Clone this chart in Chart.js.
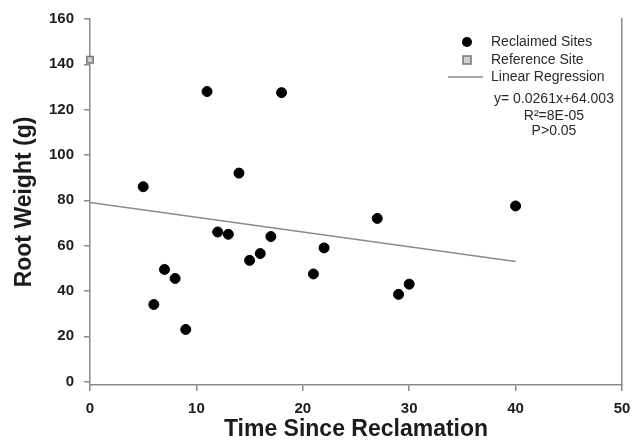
<!DOCTYPE html>
<html lang="en">

<head>
    <meta charset="UTF-8">
    <title>Root Weight vs Time Since Reclamation</title>
    <script src="https://cdn.jsdelivr.net/npm/chart.js"></script>
    <style>
        body { margin: 0; background: #fff; }
        .chart-container { width: 641px; height: 442px; position: relative; }
    </style>
</head>

<body>
    <div class="chart-container">
        <canvas id="rootChart"></canvas>
    </div>

    <script>
        // Reclaimed sites (years since reclamation, root weight in g)
        const reclaimedYears = [5, 6, 7, 8, 9, 11, 12, 13, 14, 15, 16, 17, 18, 21, 22, 27, 29, 30, 40];
        const reclaimedWeight = [86, 34, 49.5, 45.5, 23, 128, 66, 65, 92, 53.5, 56.5, 64, 127.5, 47.5, 59, 72, 38.5, 43, 77.5];

        // Reference site
        const referenceYears = [0];
        const referenceWeight = [142];

        // Regression line end points as drawn
        const regressionYears = [0, 40];
        const regressionWeight = [79, 53];

        const xTicks = [0, 10, 20, 30, 40, 50];
        const yTicks = [0, 20, 40, 60, 80, 100, 120, 140, 160];

        const legendLabels = ['Reclaimed Sites', 'Reference Site', 'Linear Regression'];
        const equationLines = ['y= 0.0261x+64.003', 'R\u00B2=8E-05', 'P>0.05'];

        const FONT = '"Liberation Sans", Arial, sans-serif';
        const AXIS_COLOR = '#8a8a8a';

        const toPoints = (xs, ys) => xs.map((x, i) => ({ x: x, y: ys[i] }));

        // Eksen başlıkları ve lejant
        const annotations = {
            id: 'annotations',
            afterDraw(chart) {
                const ctx = chart.ctx;
                const area = chart.chartArea;
                ctx.save();

                ctx.fillStyle = '#1c1c1c';
                ctx.textAlign = 'center';
                ctx.textBaseline = 'middle';
                ctx.font = 'bold 23px ' + FONT;
                ctx.fillText('Time Since Reclamation', (area.left + area.right) / 2, 430);

                ctx.save();
                ctx.translate(25, (area.top + area.bottom) / 2);
                ctx.rotate(-Math.PI / 2);
                ctx.fillText('Root Weight (g)', 0, 0);
                ctx.restore();

                // legend
                ctx.font = '14px ' + FONT;
                ctx.textAlign = 'left';
                ctx.fillStyle = '#2a2a2a';
                const rows = [42, 60, 77];
                legendLabels.forEach((label, i) => ctx.fillText(label, 491, rows[i]));

                ctx.fillStyle = '#000';
                ctx.beginPath();
                ctx.arc(467, rows[0], 5, 0, Math.PI * 2);
                ctx.fill();

                ctx.fillStyle = '#cfcfcf';
                ctx.strokeStyle = '#777';
                ctx.lineWidth = 1.5;
                ctx.fillRect(463, rows[1] - 4, 8, 8);
                ctx.strokeRect(463, rows[1] - 4, 8, 8);

                ctx.strokeStyle = '#8a8a8a';
                ctx.beginPath();
                ctx.moveTo(448, rows[2]);
                ctx.lineTo(483, rows[2]);
                ctx.stroke();

                ctx.fillStyle = '#2a2a2a';
                ctx.textAlign = 'center';
                const eqRows = [99, 116, 131];
                equationLines.forEach((line, i) => ctx.fillText(line, 554, eqRows[i]));

                ctx.restore();
            }
        };

        const ctx = document.getElementById('rootChart').getContext('2d');
        new Chart(ctx, {
            type: 'scatter',
            data: {
                datasets: [
                    {
                        label: legendLabels[0],
                        data: toPoints(reclaimedYears, reclaimedWeight),
                        backgroundColor: '#000',
                        borderColor: '#000',
                        pointRadius: 5,
                        pointHoverRadius: 5,
                    },
                    {
                        label: legendLabels[1],
                        data: toPoints(referenceYears, referenceWeight),
                        pointStyle: 'rect',
                        backgroundColor: '#cfcfcf',
                        borderColor: '#777',
                        borderWidth: 1.5,
                        pointRadius: 4.5,
                        clip: false,
                    },
                    {
                        label: legendLabels[2],
                        type: 'line',
                        data: toPoints(regressionYears, regressionWeight),
                        borderColor: '#8a8a8a',
                        borderWidth: 1.5,
                        pointRadius: 0,
                        fill: false,
                    },
                ],
            },
            options: {
                responsive: true,
                maintainAspectRatio: false,
                animation: false,
                devicePixelRatio: 1,
                layout: { padding: { top: 17, left: 0, right: 0, bottom: 0 } },
                plugins: {
                    legend: { display: false },
                    tooltip: { enabled: false },
                },
                scales: {
                    x: {
                        type: 'linear',
                        min: 0,
                        max: 50,
                        afterBuildTicks: (scale) => { scale.ticks = xTicks.map(v => ({ value: v })); },
                        afterFit: (scale) => { scale.height = 57; },
                        ticks: {
                            color: '#1c1c1c',
                            font: { family: FONT, size: 15, weight: 'bold' },
                            padding: 9,
                            maxRotation: 0,
                        },
                        grid: { drawOnChartArea: false, tickLength: 6, color: AXIS_COLOR, lineWidth: 1.5 },
                        border: { color: AXIS_COLOR, width: 1.5 },
                    },
                    y: {
                        type: 'linear',
                        min: -1.5,
                        max: 160,
                        afterBuildTicks: (scale) => { scale.ticks = yTicks.map(v => ({ value: v })); },
                        afterFit: (scale) => { scale.width = 90; },
                        ticks: {
                            color: '#1c1c1c',
                            font: { family: FONT, size: 15, weight: 'bold' },
                            padding: 10,
                        },
                        grid: { drawOnChartArea: false, tickLength: 6, color: AXIS_COLOR, lineWidth: 1.5 },
                        border: { color: AXIS_COLOR, width: 1.5 },
                    },
                    y2: {
                        type: 'linear',
                        position: 'right',
                        min: -1.5,
                        max: 160,
                        afterFit: (scale) => { scale.width = 19; },
                        ticks: { display: false },
                        grid: { display: false },
                        border: { color: AXIS_COLOR, width: 1.5 },
                    },
                },
            },
            plugins: [annotations],
        });
    </script>

</body>

</html>
